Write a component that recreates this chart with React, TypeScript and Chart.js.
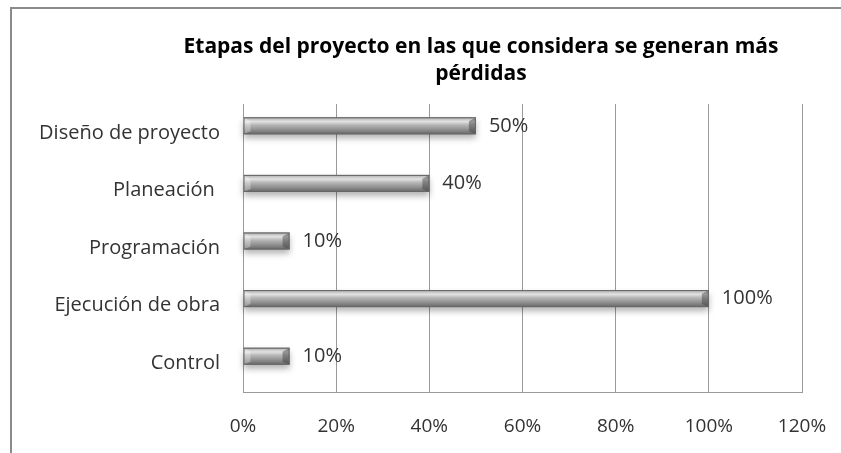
import React, { useEffect, useRef } from "react";
import { Chart, registerables } from "chart.js";

Chart.register(...registerables);

const titleLines = ["Etapas del proyecto en las que considera se generan más", "pérdidas"];
const categories = ["Diseño de proyecto", "Planeación ", "Programación", "Ejecución de obra", "Control"];
const values = [0.5, 0.4, 0.1, 1.0, 0.1];
const valueLabels = ["50%", "40%", "10%", "100%", "10%"];
const tickLabels = ["0%", "20%", "40%", "60%", "80%", "100%", "120%"];

const FONT = "'Open Sans', 'DejaVu Sans', sans-serif";
const TEXT = "#333333";
const GRID = "#9a9a9a";
const BAR_SHIFT = -7;

const titlePlugin = {
  id: "centeredTitle",
  afterDraw(chart: any) {
    const ctx = chart.ctx;
    ctx.save();
    ctx.font = `bold 21px ${FONT}`;
    ctx.fillStyle = "#000000";
    ctx.textAlign = "center";
    ctx.textBaseline = "middle";
    titleLines.forEach((line, i) => {
      ctx.fillText(line, chart.width / 2 - 4, 38 + i * 27);
    });
    ctx.restore();
  },
};

const barPlugin = {
  id: "bevelBars",
  afterDatasetsDraw(chart: any) {
    const ctx = chart.ctx;
    const meta = chart.getDatasetMeta(0);
    meta.data.forEach((el: any, i: number) => {
      const p = el.getProps(["x", "y", "base", "height"], true);
      const top = p.y - p.height / 2 + BAR_SHIFT;
      const h = p.height;
      const left = Math.min(p.base, p.x);
      const right = Math.max(p.base, p.x);
      const w = right - left;
      ctx.save();
      ctx.shadowColor = "rgba(0,0,0,0.3)";
      ctx.shadowBlur = 6;
      ctx.shadowOffsetY = 4;
      const g = ctx.createLinearGradient(0, top, 0, top + h);
      g.addColorStop(0, "#7a7a7a");
      g.addColorStop(0.08, "#bdbdbd");
      g.addColorStop(0.25, "#e2e2e2");
      g.addColorStop(0.45, "#b6b6b6");
      g.addColorStop(0.75, "#8c8c8c");
      g.addColorStop(1, "#666666");
      ctx.fillStyle = g;
      ctx.fillRect(left, top, w, h);
      ctx.restore();
      ctx.save();
      const b = Math.min(7, w / 3);
      ctx.fillStyle = "rgba(60,60,60,0.45)";
      ctx.beginPath();
      ctx.moveTo(right, top);
      ctx.lineTo(right, top + h);
      ctx.lineTo(right - b, top + h - 3);
      ctx.lineTo(right - b, top + 4);
      ctx.closePath();
      ctx.fill();
      ctx.fillStyle = "rgba(255,255,255,0.3)";
      ctx.beginPath();
      ctx.moveTo(left, top);
      ctx.lineTo(left + b, top + 4);
      ctx.lineTo(left + b, top + h - 3);
      ctx.lineTo(left, top + h);
      ctx.closePath();
      ctx.fill();
      ctx.strokeStyle = "#666666";
      ctx.lineWidth = 1;
      ctx.strokeRect(left + 0.5, top + 0.5, w - 1, h - 1);
      ctx.restore();
      ctx.save();
      ctx.font = `20px ${FONT}`;
      ctx.fillStyle = TEXT;
      ctx.textAlign = "left";
      ctx.textBaseline = "middle";
      ctx.fillText(valueLabels[i], right + 13, p.y + BAR_SHIFT);
      ctx.restore();
    });
  },
};

export default function App() {
  const ref = useRef<HTMLCanvasElement | null>(null);
  useEffect(() => {
    if (!ref.current) return;
    const chart = new Chart(ref.current, {
      type: "bar",
      data: {
        labels: categories,
        datasets: [
          {
            data: values,
            backgroundColor: "rgba(0,0,0,0)",
            borderWidth: 0,
            barThickness: 17,
          },
        ],
      },
      options: {
        indexAxis: "y",
        animation: false,
        responsive: false,
        devicePixelRatio: 1,
        layout: { padding: { left: 0, right: 156, top: 95, bottom: 0 } },
        plugins: {
          legend: { display: false },
          tooltip: { enabled: false },
          title: { display: false },
        },
        scales: {
          x: {
            min: 0,
            max: 1.2,
            ticks: {
              stepSize: 0.2,
              color: TEXT,
              font: { family: FONT, size: 19 },
              padding: 23,
              maxRotation: 0,
              callback: (_v: any, i: number) => tickLabels[i],
            },
            grid: { color: GRID, lineWidth: 1, drawTicks: false },
            border: { display: true, color: GRID, width: 1 },
            afterFit: (s: any) => {
              s.height = 93;
            },
          },
          y: {
            ticks: {
              color: TEXT,
              font: { family: FONT, size: 20 },
              padding: 23,
            },
            grid: { display: false, drawTicks: false },
            border: { display: true, color: GRID, width: 1 },
            afterFit: (s: any) => {
              s.width = 231;
            },
          },
        },
      },
      plugins: [barPlugin, titlePlugin],
    });
    return () => chart.destroy();
  }, []);
  return (
    <div style={{ position: "absolute", left: 0, top: 0, width: 841, height: 453, overflow: "hidden", background: "#ffffff" }}>
      <div
        style={{
          position: "absolute",
          left: 10,
          top: 7,
          width: 950,
          height: 480,
          border: "2px solid #8a8a8a",
          boxSizing: "border-box",
          background: "#ffffff",
        }}
      >
        <canvas ref={ref} width={946} height={476} style={{ display: "block", width: 946, height: 476 }} />
      </div>
    </div>
  );
}
